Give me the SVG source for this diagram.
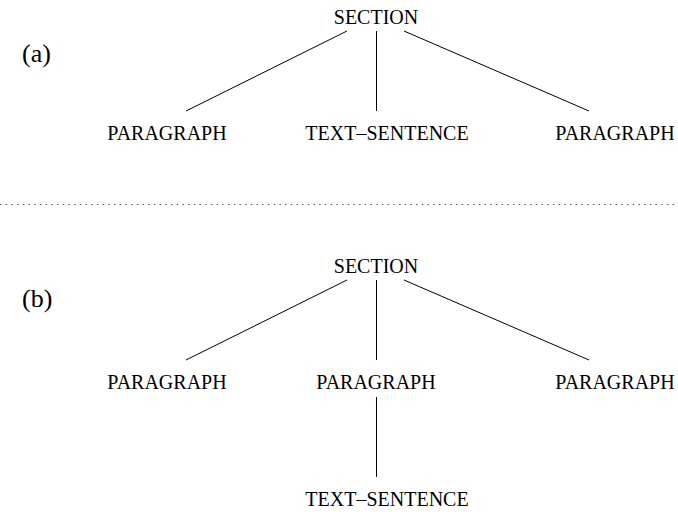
<svg xmlns="http://www.w3.org/2000/svg" width="678" height="512" viewBox="0 0 678 512">
<style>
text{font-family:"Liberation Serif","Times New Roman",serif;fill:#000}
.n{font-size:20px;text-anchor:middle}
.lab{font-size:26px}
.e{stroke:#000;stroke-width:1;fill:none}
.sep{stroke:#555;stroke-width:1.2;stroke-dasharray:1.5 4.2;fill:none}
</style>
<rect width="678" height="512" fill="#fff"/>
<text class="lab" x="22" y="62">(a)</text>
<text class="lab" x="22" y="307">(b)</text>
<g id="connectors">
<line class="e" x1="347" y1="31" x2="186" y2="111"/>
<line class="e" x1="376.5" y1="31" x2="376.5" y2="111"/>
<line class="e" x1="404" y1="31" x2="589" y2="111"/>
<line class="e" x1="347" y1="280" x2="186" y2="360"/>
<line class="e" x1="376.5" y1="280" x2="376.5" y2="360"/>
<line class="e" x1="404" y1="280" x2="589" y2="360"/>
<line class="e" x1="376.5" y1="397" x2="376.5" y2="477"/>
</g>
<line class="sep" x1="0" y1="204.5" x2="678" y2="204.5"/>
<g id="a-section"><text class="n" x="376" y="24">SECTION</text></g>
<g id="a-para1"><text class="n" x="167" y="140">PARAGRAPH</text></g>
<g id="a-text"><text class="n" x="387" y="140">TEXT–SENTENCE</text></g>
<g id="a-para2"><text class="n" x="615" y="140">PARAGRAPH</text></g>
<g id="b-section"><text class="n" x="376" y="273">SECTION</text></g>
<g id="b-para1"><text class="n" x="167" y="389">PARAGRAPH</text></g>
<g id="b-para2"><text class="n" x="376" y="389">PARAGRAPH</text></g>
<g id="b-para3"><text class="n" x="615" y="389">PARAGRAPH</text></g>
<g id="b-text"><text class="n" x="387" y="506">TEXT–SENTENCE</text></g>
</svg>
